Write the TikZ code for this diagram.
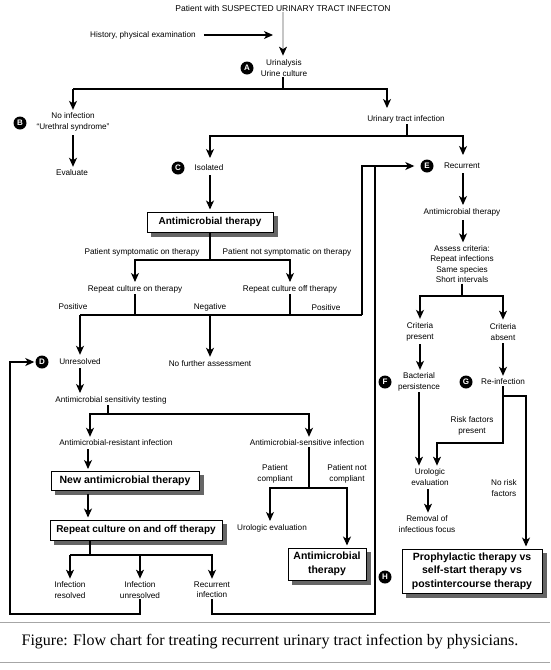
\documentclass[tikz,border=0pt]{standalone}
\usepackage{fontspec}
\setmainfont{Liberation Sans}
\newfontfamily\capfont{Liberation Serif}
\usetikzlibrary{arrows.meta,backgrounds,calc}
\begin{document}
\begin{tikzpicture}[x=1pt,y=-1pt,
  lbl/.style={font=\fontsize{8.2}{10.3}\selectfont, align=center, inner sep=1pt},
  arr/.style={-{Stealth[length=9pt,width=8pt,inset=2.5pt]}, line width=1.2pt, shorten >=2pt},
  ln/.style={line width=1.2pt},
  circ/.style={circle, fill=black, text=white, font=\bfseries\fontsize{8}{8}\selectfont, inner sep=0pt, minimum size=13pt},
  bigbox/.style={draw, line width=1pt, fill=white, align=center, inner sep=2pt,
     font=\bfseries\fontsize{10.5}{13.5}\selectfont}]
\useasboundingbox (0,0) rectangle (550,670);

% ---- top ----
\node[lbl, font=\fontsize{8.5}{10}\selectfont] (title) at (283,8) {Patient with SUSPECTED URINARY TRACT INFECTON};
\node[lbl] (hist) at (143,35) {History, physical examination};
\coordinate (histend) at (275,35);
\node[circ] (cA) at (247,68) {A};
\node[lbl] (uri) at (284,68) {Urinalysis\\Urine culture};
\coordinate (jA) at (283,89);
\coordinate (jAl) at (73,89);
\coordinate (jAr) at (387,89);

\draw[line width=1.2pt, draw=gray!45, -{Stealth[length=9pt,width=8pt,inset=2.5pt,color=black]}, shorten >=3pt] (title.south -| jA) -- (uri.north -| jA);
\draw[arr, shorten <=7pt] (hist) -- (histend);
\draw[ln] (uri.south -| jA) -- (jA);
\draw[arr] (jAl) -- (jAr) -- (jAr |- 0,110) ;

% ---- B ----
\node[circ] (cB) at (20,123) {B};
\node[lbl] (noinf) at (73,122) {No infection\\“Urethral syndrome”};
\node[lbl] (eval) at (72,173) {Evaluate};
\draw[arr] (jAl) -- (noinf.north);
\draw[arr, shorten <=3pt] (noinf.south) -- (noinf.south |- eval.north);

% ---- UTI ----
\node[lbl] (uti) at (406,119) {Urinary tract infection};
\coordinate (jU) at (407,136);
\coordinate (jUl) at (210,136);
\coordinate (jUr) at (463,136);
\draw[ln] (uti.south -| jU) -- (jU);
\draw[arr] (jU) -- (jUl) -- (jUl |- 0,160);
\draw[arr] (jU) -- (jUr) -- (jUr |- 0,157);

% ---- C ----
\node[circ] (cC) at (178,168) {C};
\node[lbl] (iso) at (209,168) {Isolated};
\node[bigbox, font=\bfseries\fontsize{10}{12}\selectfont, minimum width=126pt, minimum height=20pt] (amt1) at (210,222) {Antimicrobial therapy};
\draw[arr, shorten <=3pt] (iso.south -| amt1.north) -- (amt1.north);
\coordinate (jT) at (210,260);
\coordinate (jTl) at (135,260);
\coordinate (jTr) at (290,260);
\node[lbl] (pst) at (142,252) {Patient symptomatic on therapy};
\node[lbl] (pnst) at (287,252) {Patient not symptomatic on therapy};
\node[lbl] (rcon) at (135,289) {Repeat culture on therapy};
\node[lbl] (rcoff) at (290,289) {Repeat culture off therapy};
\draw[ln] (amt1.south) -- (jT);
\draw[arr] (jT) -- (jTl) -- (rcon.north);
\draw[arr] (jT) -- (jTr) -- (rcoff.north);

\coordinate (jP) at (135,315);
\coordinate (jPl) at (80,315);
\coordinate (jPm) at (210,315);
\coordinate (jQ) at (290,315);
\coordinate (jQr) at (362,315);
\coordinate (jQt) at (362,166);
\node[lbl] (pos1) at (73,307) {Positive};
\node[lbl] (neg) at (210,307) {Negative};
\node[lbl] (pos2) at (326,308) {Positive};
\draw[ln] (rcon.south) -- (jP);
\draw[ln] (rcoff.south) -- (jQ);
\draw[ln] (jPl) -- (jQr);

% ---- D ----
\node[circ] (cD) at (42,362) {D};
\node[lbl] (unres) at (80,362) {Unresolved};
\node[lbl] (nofa) at (210,364) {No further assessment};
\draw[arr, shorten >=3pt] (jPl) -- (unres.north);
\draw[arr, shorten >=3pt] (jPm) -- (nofa.north);
\node[lbl] (ast) at (111,400) {Antimicrobial sensitivity testing};
\draw[arr, shorten <=2pt] (unres.south) -- (unres.south |- ast.north);
\coordinate (jS) at (108,414);
\coordinate (jSl) at (90,414);
\coordinate (jSr) at (309,414);
\node[lbl] (ari) at (116,443) {Antimicrobial-resistant infection};
\node[lbl] (asi) at (307,443) {Antimicrobial-sensitive infection};
\draw[ln] (ast.south -| jS) -- (jS);
\draw[arr] (jSr) -- (jSl) -- (jSl |- ari.north);
\draw[arr] (jS) -- (jSr) -- (jSr |- asi.north);

\node[bigbox, minimum width=148pt, minimum height=19pt] (newt) at (125,481) {New antimicrobial therapy};
\node[bigbox, font=\bfseries\fontsize{10}{12}\selectfont, minimum width=172pt, minimum height=20pt] (rep) at (136,530) {Repeat culture on and off therapy};
\draw[arr, shorten <=2pt] (ari.south -| 88,0) -- (88,0 |- newt.north);
\draw[arr, shorten <=3pt] (88,0 |- newt.south) -- (88,0 |- rep.north);

\coordinate (jR) at (90,555);
\coordinate (jRl) at (70,555);
\coordinate (jRm) at (140,555);
\coordinate (jRr) at (212,555);
\node[lbl] (ir) at (70,590) {Infection\\resolved};
\node[lbl] (iu) at (140,590) {Infection\\unresolved};
\node[lbl] (ri) at (212,590) {Recurrent\\infection};
\draw[ln] (rep.south -| jR) -- (jR);
\draw[arr] (jRl) -- (jRr) -- (ri.north);
\draw[arr] (jRl) -- (ir.north);
\draw[arr] (jRm) -- (iu.north);

\coordinate (jB1) at (140,614);
\coordinate (jB2) at (10,614);
\coordinate (jB3) at (10,362);
\draw[arr, shorten >=1pt] (iu.south) -- (jB1) -- (jB2) -- (jB3) -- (cD.west);

\coordinate (jC1) at (212,614);
\coordinate (jC2) at (375,614);
\coordinate (jC3) at (375,166);
\draw[ln] (ri.south) -- (jC1) -- (jC2) -- (jC3);

% ---- compliance ----
\node[lbl] (pc) at (275,474) {Patient\\compliant};
\node[lbl] (pnc) at (347,474) {Patient not\\compliant};
\coordinate (jK) at (309,488);
\coordinate (jKl) at (270,488);
\coordinate (jKr) at (347,488);
\node[lbl] (uro1) at (272,528) {Urologic evaluation};
\node[bigbox, minimum width=78pt, minimum height=32pt] (amt2) at (327,564) {Antimicrobial\\therapy};
\draw[ln] (asi.south -| jK) -- (jK);
\draw[arr] (jK) -- (jKl) -- (jKl |- uro1.north);
\draw[arr] (jK) -- (jKr) -- (jKr |- amt2.north);

% ---- E ----
\node[circ] (cE) at (427,166) {E};
\node[lbl] (rec) at (462,166) {Recurrent};
\draw[arr, shorten >=6pt] (jQr) -- (jQt) -- (cE.west);
\node[lbl] (amt3) at (462,212) {Antimicrobial therapy};
\node[lbl] (assess) at (462,264) {Assess criteria:\\Repeat infections\\Same species\\Short intervals};
\draw[arr, shorten <=3pt] (rec.south -| jUr) -- (amt3.north -| jUr);
\draw[arr, shorten <=3pt] (amt3.south -| jUr) -- (assess.north -| jUr);
\coordinate (jX) at (462,296);
\coordinate (jXl) at (420,296);
\coordinate (jXr) at (503,296);
\node[lbl] (cp) at (420,332) {Criteria\\present};
\node[lbl] (ca) at (503,332) {Criteria\\absent};
\draw[ln] (assess.south) -- (jX);
\draw[arr, shorten >=3pt] (jX) -- (jXl) -- (cp.north);
\draw[arr, shorten >=3pt] (jX) -- (jXr) -- (ca.north);

\node[circ] (cF) at (385,382) {F};
\node[lbl] (bp) at (419,382) {Bacterial\\persistence};
\node[circ] (cG) at (466,382) {G};
\node[lbl] (reinf) at (503,382) {Re-infection};
\draw[arr, shorten <=2pt] (cp.south) -- (cp.south |- bp.north);
\draw[arr, shorten <=2pt] (ca.south) -- (ca.south |- reinf.north);

\coordinate (jG1) at (503,396);
\coordinate (jG2) at (526,396);
\coordinate (jRF1) at (503,443);
\coordinate (jRF2) at (437,443);
\node[lbl] (rfp) at (472,426) {Risk factors\\present};
\node[lbl] (uro2) at (430,477) {Urologic\\evaluation};
\node[lbl] (remf) at (427,524) {Removal of\\infectious focus};
\node[lbl] (nrf) at (504,488) {No risk\\factors};
\node[circ] (cH) at (385,577) {H};
\node[bigbox, minimum width=140pt, minimum height=44pt] (hbox) at (472,571) {Prophylactic therapy vs\\self-start therapy vs\\postintercourse therapy};

\draw[arr] (reinf.south -| jG1) -- (jRF1) -- (jRF2) -- (jRF2 |- uro2.north);
\draw[arr] (bp.south) -- (bp.south |- uro2.north);
\draw[arr] (jG1) -- (jG2) -- (jG2 |- hbox.north);
\draw[arr, shorten <=3pt] (uro2.south -| 428,0) -- (428,0 |- remf.north);

% ---- caption ----
\draw[gray!70, line width=1pt] (0,622) -- (550,622);
\draw[gray!70, line width=1pt] (0,662) -- (550,662);
\node[font=\capfont\fontsize{16}{18}\selectfont, inner sep=0pt] (cap) at (270,642) {Figure: Flow chart for treating recurrent urinary tract infection by physicians.};

\begin{scope}[on background layer]
\fill[white] (0,0) rectangle (550,670);
\foreach \n in {amt1,newt,rep,amt2,hbox}
  \fill[black!60] ($(\n.south west)+(4,4)$) rectangle ($(\n.north east)+(4,4)$);
\end{scope}
\end{tikzpicture}
\end{document}
